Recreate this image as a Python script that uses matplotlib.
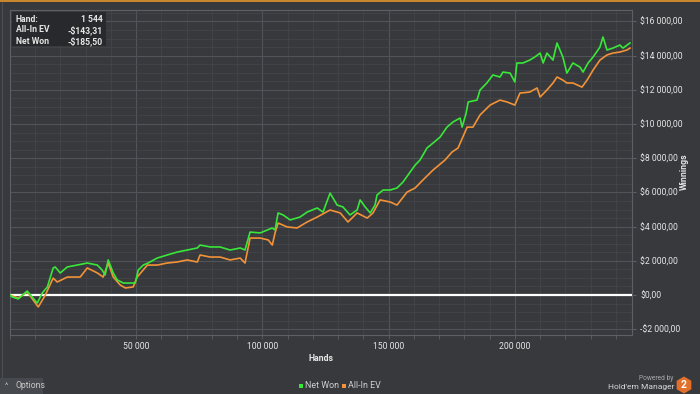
"""
Holdem Manager style winnings graph: net won vs all-in EV over hands.
"""
import matplotlib.pyplot as plt
import matplotlib.ticker as mticker
from matplotlib.patches import Rectangle, RegularPolygon

# ---------------------------------------------------------------------------
# Data (hands in thousands, winnings in $)
# ---------------------------------------------------------------------------
net_hands_k = [0, 0.9, 3.3, 6.8, 10.8, 12.8, 14.8, 17.1, 17.9, 19.9, 22.7, 26.6,
               30.6, 34.6, 36.5, 37.7, 38.9, 40.9, 42.5, 44.9, 47.6, 49.6, 50.8,
               52.8, 54.7, 58.3, 62.3, 66.2, 70.2, 74.2, 75.3, 79.3, 83.2, 87.2,
               91.2, 93.1, 95.1, 99.1, 101.9, 103.9, 105.0, 106.2, 108.2, 111.0,
               114.9, 117.7, 121.7, 124.0, 126.8, 129.6, 131.9, 134.7, 137.5,
               138.7, 140.7, 142.7, 144.6, 145.4, 147.8, 150.6, 153.3, 155.7,
               158.5, 160.5, 162.4, 165.2, 167.6, 170.4, 173.1, 175.5, 178.3,
               179.1, 180.7, 181.5, 185.0, 186.2, 188.9, 191.3, 194.1, 195.3,
               198.1, 200.0, 200.8, 203.2, 205.9, 207.9, 210.0, 211.2, 212.7,
               215.1, 216.7, 219.0, 220.6, 223.0, 225.8, 227.0, 229.0, 231.0,
               233.7, 234.9, 236.5, 238.8, 241.6, 242.8, 245.6]
net_won = [0, -120, -230, 230, -470, 120, 470, 1580, 1640, 1290, 1640, 1750,
           1870, 1750, 1460, 1170, 2050, 1290, 880, 700, 700, 700, 1460,
           1750, 1870, 2160, 2340, 2510, 2630, 2750, 2920, 2810, 2810, 2630,
           2750, 2630, 3680, 3630, 3800, 3920, 3800, 4800, 4680, 4390,
           4560, 4850, 5090, 4850, 5960, 5260, 5150, 4680, 4970,
           5560, 5150, 4800, 5260, 5850, 6140, 6140, 6260, 6610,
           7190, 7600, 7890, 8600, 8890, 9240, 9820, 10120, 10350,
           9820, 10640, 11290, 11400, 11990, 12400, 12870, 12750, 13040,
           12980, 12460, 13570, 13570, 13740, 13920, 14150, 13570, 14150,
           13740, 14740, 13920, 12980, 13570, 13330, 13040, 13570, 13920,
           14500, 15090, 14330, 14440, 14620, 14440, 14740]

ev_hands_k = [0, 0.9, 3.3, 6.8, 11.2, 14.0, 17.1, 18.7, 22.7, 27.8, 30.6, 34.6,
              36.9, 38.9, 40.9, 43.7, 45.7, 48.8, 50.4, 54.4, 58.3, 62.3, 66.2,
              70.2, 74.2, 75.3, 79.3, 83.2, 87.2, 91.2, 93.1, 95.1, 99.1, 102.3,
              103.9, 105.0, 106.2, 109.8, 113.7, 117.7, 121.7, 126.8, 130.8,
              133.9, 137.5, 141.5, 143.8, 146.6, 150.6, 153.3, 157.3, 160.5,
              163.6, 167.6, 172.3, 175.1, 177.5, 181.1, 183.4, 186.2, 190.2,
              194.1, 196.9, 200.0, 202.0, 205.9, 208.8, 210.0, 212.7, 215.1,
              216.7, 219.0, 220.6, 223.0, 226.6, 228.6, 231.0, 233.7, 236.5,
              238.8, 241.6, 244.4, 245.6]
allin_ev = [0, -60, -180, 180, -700, 0, 990, 760, 1050, 1050, 1580, 1290,
            1050, 1870, 1050, 580, 410, 470, 1050, 1750, 1750, 1870, 1930,
            2050, 1930, 2340, 2220, 2220, 2050, 2160, 1870, 3330, 3330, 3220,
            2920, 3630, 4210, 3980, 3920, 4270, 4560, 4970, 4800,
            4270, 4800, 4500, 4800, 5560, 5440, 5260, 6020, 6260,
            6730, 7310, 7890, 8360, 8600, 9820, 9820, 10530, 11110,
            11400, 11290, 11110, 11810, 11870, 12110, 11580, 11990, 12400,
            12750, 12570, 12400, 12400, 12160, 12570, 13160, 13740, 14040,
            14150, 14210, 14330, 14440]

y_ticks = [-2000, 0, 2000, 4000, 6000, 8000, 10000, 12000, 14000, 16000]
x_ticks = [50000, 100000, 150000, 200000]

tooltip_rows = [("Hand:", "1 544"), ("All-In EV", "-$143,31"), ("Net Won", "-$185,50")]

# ---------------------------------------------------------------------------
# Style
# ---------------------------------------------------------------------------
BG = "#37393d"
GRID_MAJ = "#505357"
GRID_MIN = "#44474b"
FRAME = "#5c5f63"
TXT = "#e6e6e6"
GREEN = "#38e838"
ORANGE = "#f39236"

plt.rcParams.update({
    "font.family": ["Roboto", "DejaVu Sans"],
    "font.size": 6,
})


def money(v, _pos=None):
    sign = "-" if v < 0 else ""
    s = f"{abs(v):,.2f}".replace(",", " ").replace(".", ",")
    return f"{sign}${s}"


def hands_fmt(v, _pos=None):
    return f"{int(v):,}".replace(",", " ")


fig = plt.figure(figsize=(7.0, 3.94), dpi=100, facecolor=BG)
ax = fig.add_axes([10 / 700, 1 - 335 / 394, 622 / 700, 325 / 394])
ax.set_facecolor(BG)

net_hands = [h * 1000 for h in net_hands_k]
ev_hands = [h * 1000 for h in ev_hands_k]

ax.axhline(0, color="white", linewidth=1.6, zorder=3)
ax.plot(ev_hands, allin_ev, color=ORANGE, linewidth=1.2, zorder=4)
ax.plot(net_hands, net_won, color=GREEN, linewidth=1.2, zorder=5)

ax.set_xlim(0, 246400)
ax.set_ylim(-2340, 16670)

ax.xaxis.set_major_locator(mticker.FixedLocator(x_ticks))
ax.xaxis.set_minor_locator(mticker.MultipleLocator(10000))
ax.yaxis.set_major_locator(mticker.FixedLocator(y_ticks))
ax.yaxis.set_minor_locator(mticker.MultipleLocator(500))
ax.xaxis.set_major_formatter(mticker.FuncFormatter(hands_fmt))
ax.yaxis.set_major_formatter(mticker.FuncFormatter(money))

ax.grid(which="major", color=GRID_MAJ, linewidth=0.8, zorder=1)
ax.grid(which="minor", color=GRID_MIN, linewidth=0.5, zorder=1)
ax.set_axisbelow(True)

ax.yaxis.tick_right()
ax.tick_params(axis="y", which="major", colors=FRAME, labelcolor=TXT,
               length=3, width=0.8, pad=3, labelsize=6.2)
ax.tick_params(axis="y", which="minor", length=0)
ax.tick_params(axis="x", which="both", colors=FRAME, labelcolor=TXT,
               length=3, width=0.6, pad=2, labelsize=6.2)
for s in ax.spines.values():
    s.set_color(FRAME)
    s.set_linewidth(0.8)

ax.set_xlabel("Hands", color=TXT, fontweight="bold", fontsize=6.3, labelpad=2)
fig.text(684 / 700, 1 - 172 / 394, "Winnings", rotation=90, color=TXT,
         fontweight="bold", fontsize=6.3, ha="center", va="center")

# Tooltip box (top-left)
ax.add_patch(Rectangle((12 / 700, 1 - 46 / 394), 94 / 700, 34 / 394,
                       transform=fig.transFigure, facecolor="#28292c",
                       edgecolor="none", zorder=6))
for i, (lab, val) in enumerate(tooltip_rows):
    y = 1 - (19 + i * 11) / 394
    fig.text(16 / 700, y, lab, color=TXT, fontsize=6.2, fontweight="bold",
             va="center", ha="left", zorder=7)
    fig.text(103 / 700, y, val, color=TXT, fontsize=6.2, fontweight="bold",
             va="center", ha="right", zorder=7)

# Legend at bottom centre
leg_items = [("Net Won", GREEN, 299), ("All-In EV", ORANGE, 342)]
for name, col, px in leg_items:
    fig.patches.append(Rectangle((px / 700, 1 - 388 / 394), 4 / 700, 4 / 394,
                                 transform=fig.transFigure, facecolor=col,
                                 edgecolor="none"))
    fig.text((px + 6) / 700, 1 - 385.5 / 394, name, color="#d0d0d0",
             fontsize=6.4, va="center", ha="left")

# Window chrome: top orange rule, left edge, options button
fig.patches.append(Rectangle((0, 1 - 2 / 394), 1, 2 / 394, transform=fig.transFigure,
                             facecolor="#c8872c", edgecolor="none"))
fig.lines.append(plt.Line2D([1.5 / 700, 1.5 / 700], [1 - 378 / 394, 1 - 2 / 394],
                            transform=fig.transFigure, color="#4a4d51", linewidth=0.8))
fig.patches.append(Rectangle((0, 0), 43 / 700, 16 / 394, transform=fig.transFigure,
                             facecolor="#46494d", edgecolor="none"))
fig.text(5 / 700, 1 - 386 / 394, "^", color="#c8c8c8", fontsize=5.5,
         va="center", ha="left")
fig.text(15 / 700, 1 - 386 / 394, "Options", color="#c8c8c8", fontsize=6.2,
         va="center", ha="left")

# Powered by logo
fig.text(673 / 700, 1 - 379 / 394, "Powered by", color="#aaaaaa", fontsize=4.8,
         va="center", ha="right")
fig.text(674 / 700, 1 - 387.5 / 394, "Hold'em Manager", color="#d8d8d8",
         fontsize=6.0, va="center", ha="right")
fig.patches.append(RegularPolygon((6.84, 0.09), numVertices=6, radius=0.085,
                                  orientation=0, transform=fig.dpi_scale_trans,
                                  facecolor="#e2702a", edgecolor="none"))
fig.text(684 / 700, 0.09 / 3.94, "2", color="white", fontsize=7.5,
         fontweight="bold", va="center", ha="center")

fig.savefig("out.png", dpi=100, facecolor=BG)
